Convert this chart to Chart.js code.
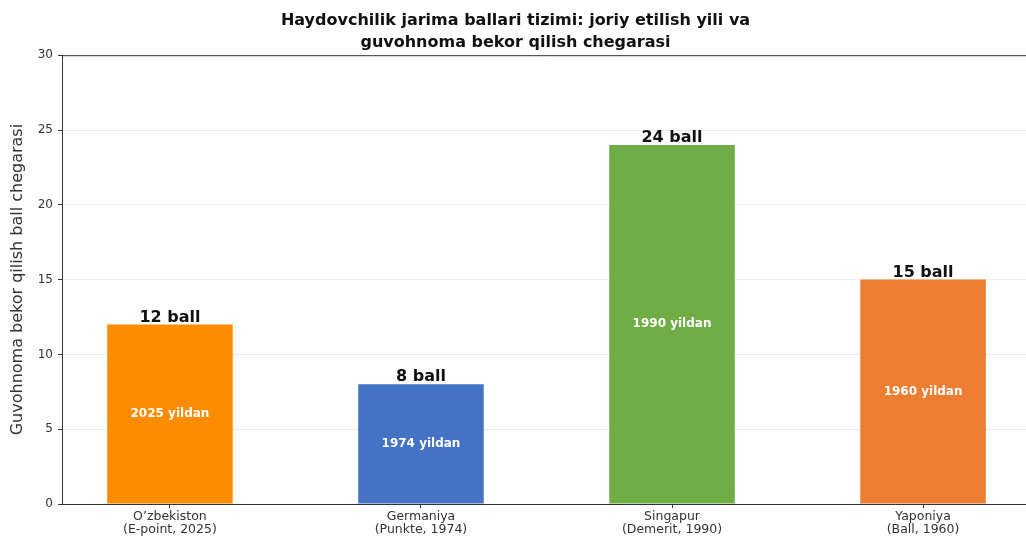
<!DOCTYPE html>
<html>
<head>
<meta charset="utf-8">
<script src="https://cdn.jsdelivr.net/npm/chart.js@4"></script>
<style>
  html, body { margin: 0; padding: 0; background: #fff; overflow: hidden; }
  #wrap { width: 1040px; height: 540px; }
</style>
</head>
<body>
<div id="wrap"><canvas id="myChart" width="1040" height="540"></canvas></div>
<script>
// chart data
const countries = ['O\u2019zbekiston', 'Germaniya', 'Singapur', 'Yaponiya'];
const systems = ['(E-point, 2025)', '(Punkte, 1974)', '(Demerit, 1990)', '(Ball, 1960)'];
const thresholds = [12, 8, 24, 15];
const sinceLabels = ['2025 yildan', '1974 yildan', '1990 yildan', '1960 yildan'];
const barColors = ['#FF8C00', '#4472C4', '#70AD47', '#ED7D31'];
const yTicks = [0, 5, 10, 15, 20, 25, 30];

const FONT = "'DejaVu Sans', sans-serif";

// value labels above bars + year labels inside bars, and the top spine
const barLabels = {
    id: 'barLabels',
    afterDatasetsDraw(chart) {
        const ctx = chart.ctx;
        const meta = chart.getDatasetMeta(0);
        ctx.save();
        ctx.textAlign = 'center';
        meta.data.forEach(function(bar, i) {
            ctx.fillStyle = '#111';
            ctx.font = 'bold 16px ' + FONT;
            ctx.textBaseline = 'bottom';
            ctx.fillText(thresholds[i] + ' ball', bar.x, bar.y + 1);
            ctx.fillStyle = '#fff';
            ctx.font = 'bold 12px ' + FONT;
            ctx.textBaseline = 'middle';
            ctx.fillText(sinceLabels[i], bar.x, (bar.y + bar.base) / 2);
        });
        const a = chart.chartArea;
        ctx.strokeStyle = '#333';
        ctx.lineWidth = 1;
        ctx.beginPath();
        ctx.moveTo(a.left, a.top + 0.5);
        ctx.lineTo(a.right, a.top + 0.5);
        ctx.stroke();
        ctx.restore();
    }
};

document.addEventListener('DOMContentLoaded', function() {
    const ctx = document.getElementById('myChart').getContext('2d');

    var myChart = new Chart(ctx, {
        type: 'bar',
        data: {
            datasets: [{
                data: thresholds.map(function(v, i) { return { x: i, y: v }; }),
                backgroundColor: barColors,
                borderWidth: 0,
                barPercentage: 0.5,
                categoryPercentage: 1
            }]
        },
        options: {
            responsive: false,
            animation: false,
            layout: { padding: { left: 0, right: 9, top: 0, bottom: 0 } },
            plugins: {
                legend: { display: false },
                tooltip: { enabled: false },
                title: {
                    display: true,
                    text: ['Haydovchilik jarima ballari tizimi: joriy etilish yili va', 'guvohnoma bekor qilish chegarasi'],
                    color: '#111',
                    font: { family: FONT, size: 16, weight: 'bold', lineHeight: 1.35 },
                    padding: { top: 10, bottom: 2 }
                }
            },
            scales: {
                x: {
                    type: 'linear',
                    offset: false,
                    min: -0.43,
                    max: 3.43,
                    afterBuildTicks: function(scale) {
                        scale.ticks = countries.map(function(c, i) { return { value: i }; });
                    },
                    afterFit: function(scale) { scale.height = 36; },
                    ticks: {
                        autoSkip: false,
                        maxRotation: 0,
                        color: '#333',
                        padding: 2,
                        font: { family: FONT, size: 12.5, lineHeight: 1.05 },
                        callback: function(value) {
                            const i = Math.round(value);
                            return [countries[i], systems[i]];
                        }
                    },
                    grid: { offset: false, color: 'transparent', tickColor: '#333', tickLength: 4, drawOnChartArea: false },
                    border: { display: true, color: '#333', width: 1 }
                },
                y: {
                    min: 0,
                    max: 30,
                    afterBuildTicks: function(scale) {
                        scale.ticks = yTicks.map(function(v) { return { value: v }; });
                    },
                    afterFit: function(scale) { scale.width = 62; },
                    ticks: {
                        color: '#333',
                        padding: 5,
                        font: { family: FONT, size: 12 }
                    },
                    grid: { color: 'rgba(0,0,0,0.07)', tickColor: '#333', tickLength: 4 },
                    border: { display: true, color: '#333', width: 1 },
                    title: {
                        display: true,
                        text: 'Guvohnoma bekor qilish ball chegarasi',
                        color: '#333',
                        font: { family: FONT, size: 16 },
                        padding: { top: 8, bottom: 0 }
                    }
                }
            }
        },
        plugins: [barLabels]
    });
});
</script>
</body>
</html>
